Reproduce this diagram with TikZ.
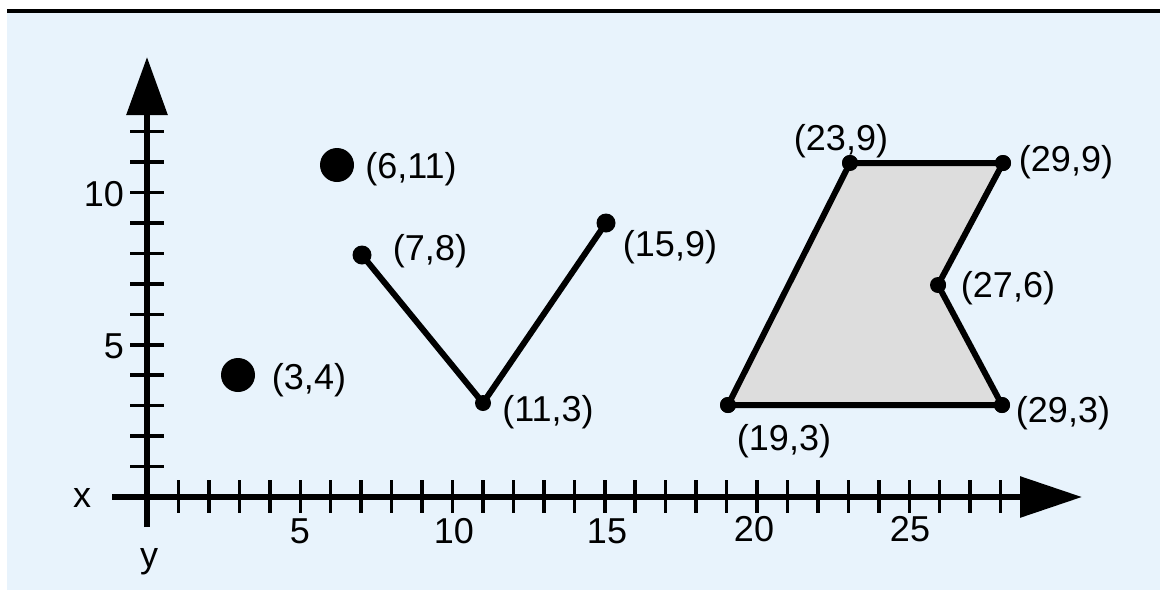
\documentclass[tikz,border=0pt]{standalone}
\usepackage{fontspec}
\setmainfont{Liberation Sans}
\usetikzlibrary{arrows.meta}
\definecolor{bgblue}{RGB}{232,243,252}
\definecolor{polygray}{RGB}{221,221,221}
\begin{document}
\begin{tikzpicture}[x=1pt,y=-1pt,
  axisline/.style={line width=6pt},
  tickmark/.style={line width=3.5pt},
  bigdot/.style={circle,fill=black,inner sep=0pt,minimum size=34pt},
  smalldot/.style={circle,fill=black,inner sep=0pt,minimum size=19pt},
  vdot/.style={circle,fill=black,inner sep=0pt,minimum size=16pt},
  seg/.style={line width=6pt,line join=round},
  lbl/.style={font=\fontsize{36}{40}\selectfont,inner sep=0pt,text height=26pt,text depth=0pt},
  axlbl/.style={font=\fontsize{36}{40}\selectfont,inner sep=0pt,anchor=base},
]
% canvas
\useasboundingbox (0,0) rectangle (1160,590);
\fill[white] (0,0) rectangle (1160,590);
\fill[bgblue] (7,12) rectangle (1160,590);
\fill[black] (7,9) rectangle (1160,12.5);

% axes
\coordinate (xs) at (112,497);
\coordinate (xe) at (1082,497);
\coordinate (ys) at (147,527);
\coordinate (ye) at (147,57);
\draw[axisline,-{Triangle[length=62pt,width=40pt]}] (xs) -- (xe);
\draw[axisline,-{Triangle[length=58pt,width=40pt]}] (ys) -- (ye);
\foreach \i in {1,...,28}
  \draw[tickmark] ({148+30.45*\i},480) -- ({148+30.45*\i},513);
\foreach \i in {1,...,12}
  \draw[tickmark] (130,{497-30.45*\i}) -- (164,{497-30.45*\i});

% axis labels
\node[axlbl] (lx) at (82,507) {x};
\node[axlbl] (ly) at (149,567) {y};
\node[lbl,anchor=east] (ly10) at (124,193) {10};
\node[lbl,anchor=east] (ly5) at (124,345) {5};
\node[lbl] (lx5) at (300,530) {5};
\node[lbl] (lx10) at (454,530) {10};
\node[lbl] (lx15) at (607,530) {15};
\node[lbl] (lx20) at (754,528) {20};
\node[lbl] (lx25) at (910,528) {25};

% isolated points
\node[bigdot] (p34) at (238,375) {};
\node[bigdot] (p611) at (337,165) {};

% V polyline
\node[smalldot] (p78) at (362,255) {};
\node[vdot] (p113) at (483,403) {};
\node[smalldot] (p159) at (606,223) {};
\draw[seg] (p78.center) -- (p113.center) -- (p159.center);

% polygon
\node[vdot] (q193) at (728,405) {};
\node[vdot] (q239) at (850,163) {};
\node[vdot] (q299) at (1003,163) {};
\node[vdot] (q276) at (938,285) {};
\node[vdot] (q293) at (1002,405) {};
\filldraw[seg,fill=polygray] (q193.center) -- (q239.center) -- (q299.center) -- (q276.center) -- (q293.center) -- cycle;
\foreach \q in {q193,q239,q299,q276,q293} \fill (\q) circle (8pt);

% point labels
\node[lbl] (t611) at (411,165) {(6,11)};
\node[lbl] (t78) at (430,247) {(7,8)};
\node[lbl] (t34) at (309,376) {(3,4)};
\node[lbl] (t113) at (548,408) {(11,3)};
\node[lbl] (t159) at (670,243) {(15,9)};
\node[lbl] (t239) at (841,137) {(23,9)};
\node[lbl] (t299) at (1066,158) {(29,9)};
\node[lbl] (t276) at (1008,284) {(27,6)};
\node[lbl] (t293) at (1063,409) {(29,3)};
\node[lbl] (t193) at (784,437) {(19,3)};
\end{tikzpicture}
\end{document}
